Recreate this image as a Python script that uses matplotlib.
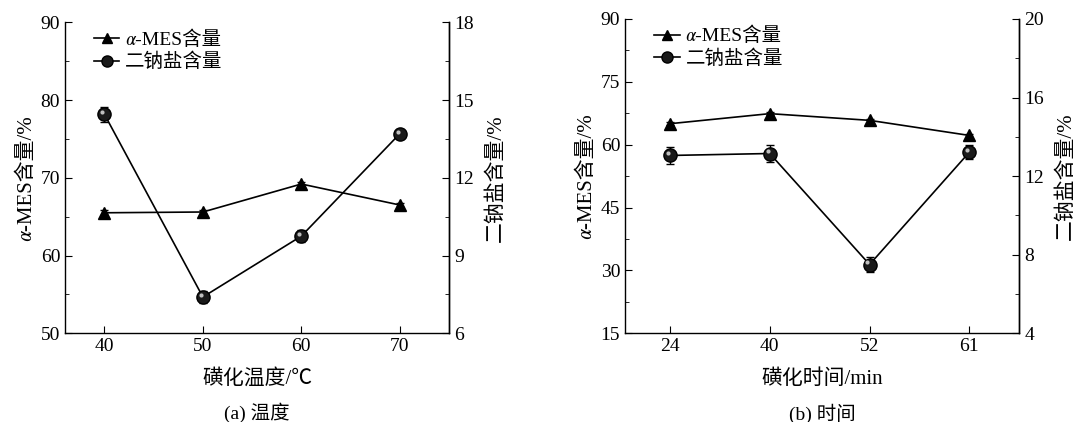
import numpy as np
import matplotlib
matplotlib.use("Agg")
import matplotlib.pyplot as plt
from matplotlib.lines import Line2D
from matplotlib.transforms import ScaledTranslation
from matplotlib.ticker import MultipleLocator, AutoMinorLocator

# serif digits, STIX for the italic alpha, CJK fallback for Chinese
plt.rcParams['font.family'] = ['Liberation Serif', 'STIXGeneral', 'Noto Sans CJK SC']
plt.rcParams['axes.linewidth'] = 1.0

# (a) sulfonation temperature
temp = [40, 50, 60, 70]
temp_mes = [65.5, 65.6, 69.2, 66.5]
temp_mes_err = [0.3, 0.3, 0.3, 0.2]
temp_salt = [14.45, 7.4, 9.75, 13.7]
temp_salt_err = [0.28, 0.25, 0.22, 0.1]

# (b) sulfonation time
time_labels = ['24', '40', '52', '61']
time_mes = [65.0, 67.4, 65.8, 62.2]
time_mes_err = [0.3, 0.3, 0.3, 0.3]
time_salt = [13.05, 13.15, 7.5, 13.22]
time_salt_err = [0.42, 0.42, 0.4, 0.35]

MES_LABEL = '\U0001D6FC-MES含量'
SALT_LABEL = '二钠盐含量'

TRI = dict(color='black', lw=1.2, marker='^', ms=8)
BALL = dict(color='black', lw=1.2, marker='o', ms=9.5, mfc='#1a1a1a', mec='black')


def highlight(ax, x, y):
    # small light spot to give the balls a shaded look
    off = ScaledTranslation(-1.6 / 72, 1.6 / 72, ax.figure.dpi_scale_trans)
    ax.plot(x, y, ls='none', marker='o', ms=3, mfc='#dddddd', mec='none',
            alpha=0.85, transform=ax.transData + off, zorder=4)


def style(ax, right=False):
    ax.spines['top'].set_visible(False)
    ax.tick_params(which='both', direction='in', labelsize=14)
    ax.tick_params(which='major', length=5)
    ax.tick_params(which='minor', length=3)
    if right:
        ax.spines['left'].set_visible(False)
        ax.spines['bottom'].set_visible(False)


def panel(rect, x, mes, mes_err, salt, salt_err, xlim, ylim, ystep,
          rlim, rstep, xlabel, title, xticklabels=None):
    ax = fig.add_axes(rect)
    axr = ax.twinx()
    ax.errorbar(x, mes, yerr=mes_err, capsize=3, elinewidth=1.0,
                capthick=1.0, zorder=3, **TRI)
    axr.errorbar(x, salt, yerr=salt_err, capsize=3, elinewidth=1.0,
                 capthick=1.0, zorder=3, **BALL)
    highlight(axr, x, salt)
    ax.set_xlim(*xlim)
    ax.set_ylim(*ylim)
    ax.yaxis.set_major_locator(MultipleLocator(ystep))
    ax.yaxis.set_minor_locator(AutoMinorLocator(2))
    ax.set_xticks(x)
    if xticklabels is not None:
        ax.set_xticklabels(xticklabels)
    axr.set_ylim(*rlim)
    axr.yaxis.set_major_locator(MultipleLocator(rstep))
    axr.yaxis.set_minor_locator(AutoMinorLocator(2))
    style(ax)
    style(axr, right=True)
    ax.set_ylabel(MES_LABEL + '/%', fontsize=15, labelpad=3)
    axr.set_ylabel(SALT_LABEL + '/%', fontsize=15, labelpad=9)
    ax.set_xlabel(xlabel, fontsize=15, labelpad=10)
    ax.text(0.5, -0.255, title, transform=ax.transAxes, ha='center',
            va='center', fontsize=14)
    handles = [Line2D([], [], color='black', lw=1.2, marker='^', ms=7),
               Line2D([], [], color='black', lw=1.2, marker='o', ms=8,
                      mfc='#1a1a1a', mec='black')]
    ax.legend(handles, [MES_LABEL, SALT_LABEL], loc='upper left',
              bbox_to_anchor=(0.03, 1.03), frameon=False, fontsize=14,
              handlelength=1.3, handletextpad=0.3, labelspacing=0.2)
    return ax, axr


fig = plt.figure(figsize=(10.75, 4.22), dpi=100)

panel([0.0605, 0.2102, 0.3572, 0.737], temp, temp_mes, temp_mes_err,
      temp_salt, temp_salt_err, (36, 75), (50, 90), 10, (6, 18), 3,
      '磺化温度/℃', '(a) 温度')

idx = np.arange(len(time_labels))
panel([0.5814, 0.2102, 0.3668, 0.745], idx, time_mes, time_mes_err,
      time_salt, time_salt_err, (-0.45, 3.5), (15, 90), 15, (4, 20), 4,
      '磺化时间/min', '(b) 时间', xticklabels=time_labels)

fig.savefig('out.png', dpi=100)
